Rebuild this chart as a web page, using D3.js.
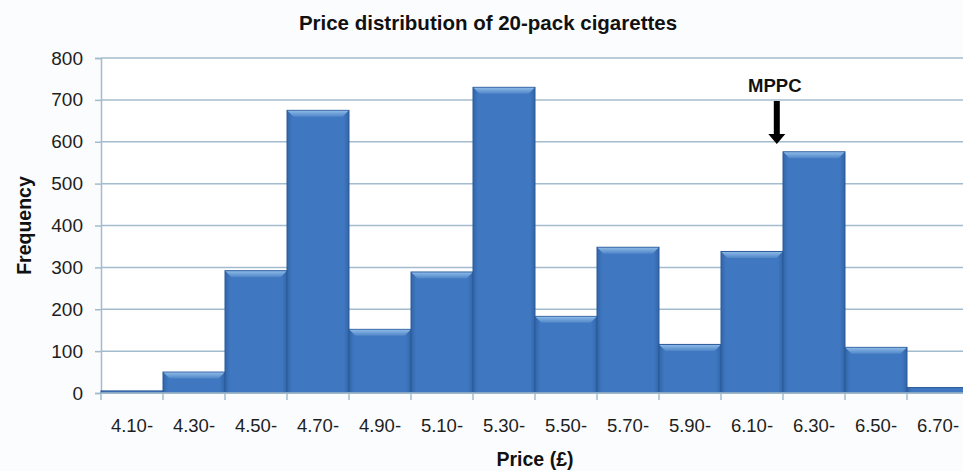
<!DOCTYPE html>
<html>
<head>
<meta charset="utf-8">
<script src="https://cdn.jsdelivr.net/npm/d3@7"></script>
<style>
  body { margin: 0; background: #fbfcfd; }
  svg { display: block; font-family: Arial, "Liberation Sans", sans-serif; }
</style>
</head>
<body>
<div id="target"></div>
<script>
// data
const binLabels = ['4.10-', '4.30-', '4.50-', '4.70-', '4.90-', '5.10-', '5.30-', '5.50-', '5.70-', '5.90-', '6.10-', '6.30-', '6.50-', '6.70-']
const binStarts = [4.10, 4.30, 4.50, 4.70, 4.90, 5.10, 5.30, 5.50, 5.70, 5.90, 6.10, 6.30, 6.50, 6.70]
const frequency = [5, 50, 292, 675, 152, 289, 730, 183, 348, 116, 338, 576, 109, 13]
const yTicks = [0, 100, 200, 300, 400, 500, 600, 700, 800]
const binWidth = 0.2
const mppcPrice = 6.28

const width = 963
const height = 471
const margin = { top: 58, right: -6, bottom: 78, left: 101 }

const colors = {
    grid: '#a3bccd',
    barMain: '#3f77c0',
    barEdge: '#2b5a9a',
    text: '#1e1e1e'
}

const svg = d3.select('#target').append('svg')
    .attr('width', width)
    .attr('height', height)

// defs: bar gradient
const defs = svg.append('defs')
const grad = defs.append('linearGradient')
    .attr('id', 'barGrad')
    .attr('x1', 0).attr('x2', 1).attr('y1', 0).attr('y2', 0)
grad.append('stop').attr('offset', '0%').attr('stop-color', '#3265a8')
grad.append('stop').attr('offset', '8%').attr('stop-color', colors.barMain)
grad.append('stop').attr('offset', '92%').attr('stop-color', colors.barMain)
grad.append('stop').attr('offset', '100%').attr('stop-color', '#3265a8')

const bevelGrad = defs.append('linearGradient')
    .attr('id', 'bevelGrad')
    .attr('x1', 0).attr('x2', 0).attr('y1', 0).attr('y2', 1)
bevelGrad.append('stop').attr('offset', '0%').attr('stop-color', '#8bb8e6')
bevelGrad.append('stop').attr('offset', '100%').attr('stop-color', '#4f86c8')

// scales
const x = d3.scaleLinear()
    .domain([binStarts[0], binStarts[binStarts.length - 1] + binWidth])
    .range([margin.left, width - margin.right])

const y = d3.scaleLinear()
    .domain([0, 800])
    .range([height - margin.bottom, margin.top])

// plot area background
svg.append('rect')
    .attr('x', margin.left)
    .attr('y', margin.top)
    .attr('width', width - margin.left)
    .attr('height', y(0) - margin.top)
    .attr('fill', '#ffffff')

// gridlines + y axis
const yAxis = svg.append('g')
    .attr('transform', `translate(${margin.left},0)`)
    .call(d3.axisLeft(y).tickValues(yTicks).tickSize(6).tickPadding(12))

yAxis.select('.domain').attr('stroke', colors.grid).attr('stroke-width', 1.5)
yAxis.selectAll('.tick line').attr('stroke', colors.grid).attr('stroke-width', 1.5)
yAxis.selectAll('.tick text')
    .attr('font-size', 19)
    .attr('fill', colors.text)
    .attr('font-family', 'Arial, "Liberation Sans", sans-serif')

svg.append('g')
    .selectAll('line')
    .data(yTicks.filter(d => d > 0))
    .enter()
    .append('line')
    .attr('x1', margin.left)
    .attr('x2', width)
    .attr('y1', d => y(d))
    .attr('y2', d => y(d))
    .attr('stroke', colors.grid)
    .attr('stroke-width', 1.5)

// bars
const bars = svg.append('g')
    .selectAll('g')
    .data(binStarts.map((s, i) => ({ start: s, value: frequency[i] })))
    .enter()
    .append('g')

bars.append('rect')
    .attr('x', d => x(d.start))
    .attr('y', d => y(d.value))
    .attr('width', d => x(d.start + binWidth) - x(d.start))
    .attr('height', d => y(0) - y(d.value))
    .attr('fill', 'url(#barGrad)')
    .attr('stroke', colors.barEdge)
    .attr('stroke-width', 1)

// top bevel
bars.filter(d => y(0) - y(d.value) > 8)
    .append('path')
    .attr('d', d => {
        const x0 = x(d.start) + 0.5
        const x1 = x(d.start + binWidth) - 0.5
        const yt = y(d.value) + 0.5
        const b = 6
        return `M${x0},${yt}L${x1},${yt}L${x1 - b},${yt + b}L${x0 + b},${yt + b}Z`
    })
    .attr('fill', 'url(#bevelGrad)')

// x axis
const xAxisG = svg.append('g')
xAxisG.append('line')
    .attr('x1', margin.left)
    .attr('x2', width)
    .attr('y1', y(0))
    .attr('y2', y(0))
    .attr('stroke', colors.grid)
    .attr('stroke-width', 1.5)

xAxisG.selectAll('.xtick')
    .data(binStarts)
    .enter()
    .append('line')
    .attr('class', 'xtick')
    .attr('x1', d => x(d))
    .attr('x2', d => x(d))
    .attr('y1', y(0))
    .attr('y2', y(0) + 7)
    .attr('stroke', colors.grid)
    .attr('stroke-width', 1.5)

xAxisG.selectAll('.xlabel')
    .data(binLabels)
    .enter()
    .append('text')
    .attr('class', 'xlabel')
    .attr('x', (d, i) => x(binStarts[i] + binWidth / 2))
    .attr('y', 432)
    .attr('text-anchor', 'middle')
    .attr('font-size', 18.5)
    .attr('fill', colors.text)
    .text(d => d)

// titles
svg.append('text')
    .attr('x', 488)
    .attr('y', 30)
    .attr('text-anchor', 'middle')
    .attr('font-size', 20.5)
    .attr('font-weight', 'bold')
    .attr('fill', '#111')
    .text('Price distribution of 20-pack cigarettes')

svg.append('text')
    .attr('x', x.range()[0] / 2 + x.range()[1] / 2)
    .attr('y', 466)
    .attr('text-anchor', 'middle')
    .attr('font-size', 19.5)
    .attr('font-weight', 'bold')
    .attr('fill', '#111')
    .text('Price (£)')

svg.append('text')
    .attr('transform', `translate(31,${(y(0) + y(800)) / 2}) rotate(-90)`)
    .attr('text-anchor', 'middle')
    .attr('font-size', 19.5)
    .attr('font-weight', 'bold')
    .attr('fill', '#111')
    .text('Frequency')

// MPPC annotation
const ax = x(mppcPrice)
svg.append('text')
    .attr('x', ax - 2)
    .attr('y', 92)
    .attr('text-anchor', 'middle')
    .attr('font-size', 18.5)
    .attr('font-weight', 'bold')
    .attr('fill', '#111')
    .text('MPPC')

svg.append('path')
    .attr('d', `M${ax - 3},101L${ax + 3},101L${ax + 3},134L${ax + 8.5},134L${ax},144L${ax - 8.5},134L${ax - 3},134Z`)
    .attr('fill', '#000')
</script>
</body>
</html>
